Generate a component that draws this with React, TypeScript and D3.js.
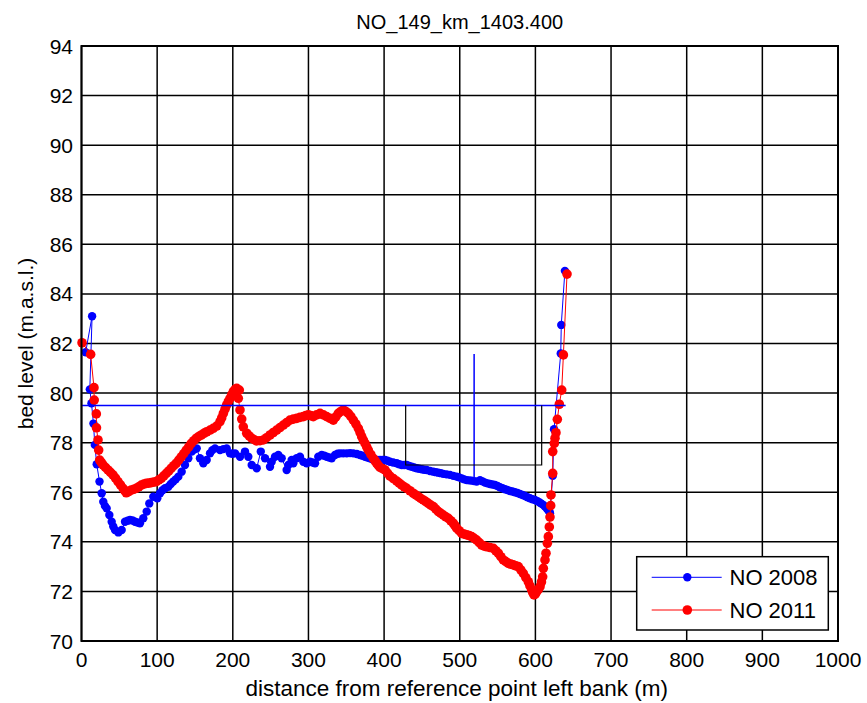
import React from "react";
import * as d3 from "d3";

const TITLE = "NO_149_km_1403.400";
const X_LABEL = "distance from reference point left bank (m)";
const Y_LABEL = "bed level (m.a.s.l.)";
const X_TICKS = [0, 100, 200, 300, 400, 500, 600, 700, 800, 900, 1000];
const Y_TICKS = [70, 72, 74, 76, 78, 80, 82, 84, 86, 88, 90, 92, 94];
const SERIES_NAMES = ["NO 2008", "NO 2011"];

// NO 2008 (distance m, level m.a.s.l.)
const NO2008: [number, number][] = [
  [5.5, 81.65], [14, 83.1], [11, 80.15], [13.2, 79.59], [15.8, 78.77], [17.6, 77.91], [20.1, 77.13], [23.8, 76.43],
  [26.7, 75.96], [28.8, 75.62], [31, 75.45], [33.3, 75.35], [36.8, 75.08], [39.9, 74.81], [42, 74.62], [44.3, 74.48], [48.7, 74.38], [53.1, 74.48],
  [57.5, 74.81], [61, 74.85], [64.1, 74.88], [67.5, 74.86], [70.7, 74.81], [74, 74.78], [77.3, 74.75], [81.7, 74.95], [86.2, 75.22], [89.6, 75.55], [94.9, 75.82],
  [100.2, 75.76], [103.8, 75.96], [107, 76.08], [110.4, 76.16], [114.8, 76.22], [118, 76.33], [121.3, 76.43], [124.5, 76.52], [128, 76.63], [132.4, 76.83], [136.8, 77.1],
  [141.2, 77.37], [145.7, 77.64], [149, 77.72], [152.3, 77.77], [156.6, 77.37], [161, 77.17], [165.5, 77.3], [169.9, 77.57], [173, 77.7], [176.5, 77.77],
  [183.1, 77.7], [187.5, 77.74], [191.9, 77.77], [196.3, 77.57], [199.5, 77.55], [202.9, 77.57], [209.5, 77.43], [216.1, 77.64], [220.5, 77.43], [225, 77.1],
  [231.6, 76.97], [237, 77.64], [242.6, 77.37], [249.2, 77.03], [251.4, 77.23], [255.8, 77.43], [260.2, 77.5], [264.6, 77.37],
  [271.2, 76.9], [273.4, 77.1], [277.8, 77.3], [280, 77.17], [284.4, 77.37], [288.8, 77.43], [293.2, 77.23], [297.7, 77.17],
  [302, 77.23], [305.5, 77.2], [308.7, 77.17], [313, 77.43], [317.5, 77.5], [321, 77.47], [324.1, 77.43], [327.5, 77.4], [330.7, 77.37], [335.1, 77.5], [338.5, 77.55], [341.7, 77.57],
  [346, 77.57], [350.6, 77.57], [355, 77.58], [359.3, 77.57], [364, 77.54], [368.2, 77.5], [371.5, 77.47], [374.8, 77.43], [378, 77.4], [381.4, 77.37], [384.7, 77.33], [388, 77.3], [391.3, 77.3], [394.6, 77.3], [398, 77.3], [401.2, 77.3],
  [404.5, 77.27], [407.8, 77.23], [412, 77.2], [416.7, 77.17], [420, 77.13], [423.3, 77.1], [426.6, 77.1], [429.9, 77.1], [433.2, 77.06], [436.5, 77.03], [439.8, 77.0], [443.1, 76.97], [446.4, 76.95], [449.7, 76.93], [453, 76.91], [456.3, 76.9],
  [460.7, 76.86], [465.1, 76.83], [468.4, 76.81], [471.7, 76.79], [475, 76.77], [478.3, 76.74], [482.7, 76.72], [487.1, 76.7], [491.5, 76.66], [495.9, 76.63], [499.2, 76.6], [502.6, 76.56], [505.9, 76.52], [509.2, 76.49], [512.5, 76.48], [515.8, 76.47],
  [519, 76.45], [522.4, 76.43], [526.8, 76.49], [530, 76.44], [533.4, 76.39], [536.7, 76.36], [540, 76.33], [543.3, 76.31], [546.6, 76.29], [549.9, 76.25], [553.2, 76.2], [556.5, 76.16], [559.8, 76.12], [563.1, 76.09], [566.4, 76.05],
  [569.7, 76.03], [573, 76.0], [576.3, 75.97], [579.6, 75.93], [583, 75.89], [586.3, 75.85], [589.6, 75.8], [592.9, 75.76], [596.2, 75.72], [599.5, 75.69], [602.8, 75.64], [606.1, 75.58], [608.3, 75.53], [610.4, 75.49], [612.7, 75.42], [614.9, 75.35],
  [616.7, 75.28], [618.4, 75.22], [619.3, 75.15], [622.9, 76.66], [624.6, 78.54], [633.5, 81.6], [634.2, 82.75], [639, 84.93],
];

// NO 2011
const NO2011: [number, number][] = [
  [0.7, 82.03], [12.1, 81.56], [16.5, 80.22], [16.8, 79.72], [19.6, 79.16], [19.8, 78.6], [21.8, 78.11], [22.7, 77.7],
  [24, 77.3], [26.2, 77.2], [28.4, 77.1], [31.7, 77.0], [35, 76.9], [38.3, 76.8], [41.6, 76.7], [44.9, 76.57], [48.2, 76.43], [51.5, 76.3], [54.9, 76.16], [57, 76.07], [59.2, 75.98], [62.5, 76.03], [65.8, 76.09],
  [69.1, 76.12], [72.4, 76.16], [75.7, 76.22], [79.1, 76.29], [82.4, 76.33], [85.7, 76.36], [89, 76.37], [92.3, 76.39], [95.6, 76.41], [98.9, 76.43], [102.2, 76.5], [105.5, 76.56], [108.8, 76.66], [112.1, 76.76], [115.4, 76.86], [118.7, 76.97],
  [122, 77.07], [125.3, 77.17], [128.6, 77.3], [131.9, 77.43], [135.2, 77.56], [138.5, 77.7], [141.8, 77.83], [145.1, 77.97], [148.5, 78.08], [151.8, 78.18], [155.1, 78.25], [158.4, 78.31], [162, 78.38], [165.5, 78.44], [170, 78.51], [174.2, 78.58],
  [178.7, 78.67], [183.1, 78.85], [185.3, 79.0], [187.5, 79.18], [189.7, 79.35], [191.9, 79.52], [194.1, 79.66], [196.3, 79.79], [198.5, 79.93], [200.7, 80.06], [203, 80.15], [205.2, 80.19], [208.6, 80.12],
  [207.3, 79.79], [209.5, 79.32], [211.8, 78.95], [213.9, 78.64], [218.4, 78.38], [221.7, 78.27], [225, 78.18], [228.3, 78.12], [231.6, 78.07], [236, 78.08], [240.3, 78.11], [244.7, 78.2], [249.2, 78.31], [253.6, 78.41], [258, 78.51],
  [262.4, 78.61], [266.8, 78.71], [271.2, 78.81], [275.6, 78.91], [280, 78.95], [284.5, 78.98], [288.8, 79.02], [293.2, 79.05], [296.5, 79.09], [299.8, 79.12], [303.1, 79.09], [306.4, 79.05], [310.8, 79.12], [315.3, 79.18], [319.7, 79.12], [324.1, 79.05],
  [328.5, 78.98], [332.9, 78.91], [336.2, 79.04], [339.5, 79.18], [342.8, 79.26], [346.1, 79.32], [349.4, 79.26], [352.7, 79.18], [356, 79.06], [359.3, 78.91], [362.6, 78.76], [365.9, 78.58], [368.2, 78.41],
  [370.4, 78.24], [372.6, 78.1], [374.8, 77.97], [377, 77.83], [379.1, 77.7], [382.4, 77.53], [385.7, 77.37], [388, 77.27], [390.2, 77.17], [392.4, 77.08], [394.6, 77.0], [397.9, 76.95], [401.2, 76.9], [404.5, 76.77], [407.8, 76.65],
  [412.2, 76.55], [416.7, 76.45], [420, 76.37], [423.3, 76.29], [426.6, 76.22], [429.9, 76.16], [434.2, 76.06], [438.6, 75.96], [441.9, 75.89], [445.2, 75.82], [448.5, 75.75], [451.8, 75.69], [455.1, 75.62], [458.4, 75.55], [461.7, 75.48], [465.1, 75.42],
  [468.4, 75.32], [471.7, 75.22], [475, 75.15], [478.3, 75.08], [481.6, 75.01], [484.9, 74.95], [488.2, 74.85], [491.5, 74.75], [493.7, 74.65], [495.9, 74.55], [499.2, 74.45], [502.6, 74.34], [505.9, 74.31], [509.2, 74.28], [512.5, 74.25], [515.8, 74.21],
  [519.1, 74.14], [522.4, 74.07], [525.7, 73.97], [529, 73.87], [532.3, 73.83], [535.6, 73.8], [540, 73.77], [544.4, 73.74], [547.7, 73.64], [551, 73.54], [554.3, 73.4], [557.6, 73.27], [560.9, 73.2], [564.2, 73.13], [567.5, 73.1], [570.8, 73.07],
  [574.1, 73.03], [577.4, 73.0], [580.7, 72.87], [584, 72.73], [587.3, 72.56], [590.6, 72.39], [592.8, 72.22], [595.1, 72.06], [596.6, 71.95], [598.2, 71.86], [600, 71.9], [601.7, 71.99], [604, 72.08], [606.1, 72.19], [608, 72.38], [609.6, 72.59],
  [610.5, 72.93], [612.7, 73.27], [614, 73.54], [615.8, 73.94], [617.1, 74.21], [618.4, 74.6], [619.3, 75.0], [620.2, 75.46],
  [620.6, 75.89], [622.9, 76.76], [622.9, 77.64], [625, 77.97], [625.9, 78.18], [627.2, 78.4], [629, 78.94], [631.6, 79.55],
  [634.8, 80.12], [637, 81.54], [641.8, 84.8],
];

// reference lines
const WATER_LINE: [number, number][] = [[0, 79.5], [640, 79.5]];
const BLACK_LINE: [number, number][] = [[428.5, 79.5], [428.5, 77.1], [608.3, 77.1], [608.3, 79.5]];
const BLUE_VLINE: [number, number][] = [[519, 81.58], [519, 76.6]];

const W = 867;
const H = 703;
const M = { left: 81.5, right: 838, top: 46, bottom: 641 };
const FONT = "'Liberation Sans', Arial, Helvetica, sans-serif";
const FS = 21;

export default function App() {
  const x = d3.scaleLinear().domain([0, 1000]).range([M.left, M.right]);
  const y = d3.scaleLinear().domain([70, 94]).range([M.bottom, M.top]);
  const line = d3
    .line<[number, number]>()
    .x((d) => x(d[0]))
    .y((d) => y(d[1]));

  const legX = 636.7;
  const legY = 556.7;
  const legW = 191.6;
  const legH = 73.3;
  const legRows = [577.3, 610];
  const colors = ["#0000ff", "#ff0000"];
  const radii = [4.2, 4.8];

  return (
    <svg width={W} height={H} style={{ display: "block", position: "absolute", left: 0, top: 0 }}>
      <rect x={0} y={0} width={W} height={H} fill="#fff" />
      {/* grid */}
      <g stroke="#000" strokeWidth={1.5}>
        {X_TICKS.map((t) => (
          <line key={"gx" + t} x1={x(t)} x2={x(t)} y1={M.top} y2={M.bottom} />
        ))}
        {Y_TICKS.map((t) => (
          <line key={"gy" + t} x1={M.left} x2={M.right} y1={y(t)} y2={y(t)} />
        ))}
      </g>
      {/* 2008 */}
      <path d={line(NO2008) || ""} fill="none" stroke={colors[0]} strokeWidth={1} />
      {NO2008.map((d, i) => (
        <circle key={"b" + i} cx={x(d[0])} cy={y(d[1])} r={radii[0]} fill={colors[0]} />
      ))}
      {/* 2011 */}
      <path d={line(NO2011) || ""} fill="none" stroke={colors[1]} strokeWidth={1} />
      {NO2011.map((d, i) => (
        <circle key={"r" + i} cx={x(d[0])} cy={y(d[1])} r={radii[1]} fill={colors[1]} />
      ))}
      {/* reference lines */}
      <path d={line(WATER_LINE) || ""} fill="none" stroke="#0000ff" strokeWidth={1.5} />
      <path d={line(BLUE_VLINE) || ""} fill="none" stroke="#0000ff" strokeWidth={1.5} />
      <path d={line(BLACK_LINE) || ""} fill="none" stroke="#000" strokeWidth={1.2} />
      {/* frame */}
      <rect x={M.left} y={M.top} width={M.right - M.left} height={M.bottom - M.top} fill="none" stroke="#000" strokeWidth={2} />
      {/* ticks labels */}
      <g fontFamily={FONT} fontSize={FS} fill="#000">
        {X_TICKS.map((t) => (
          <text key={"tx" + t} x={x(t)} y={667} textAnchor="middle">
            {t}
          </text>
        ))}
        {Y_TICKS.map((t) => (
          <text key={"ty" + t} x={73} y={y(t)} dy="0.36em" textAnchor="end">
            {t}
          </text>
        ))}
        <text x={(M.left + M.right) / 2 - 3} y={696} textAnchor="middle" fontSize={22.5}>
          {X_LABEL}
        </text>
        <text transform={`translate(33, ${(M.top + M.bottom) / 2}) rotate(-90)`} textAnchor="middle">
          {Y_LABEL}
        </text>
        <text x={(M.left + M.right) / 2} y={29} textAnchor="middle" fontSize={20}>
          {TITLE}
        </text>
      </g>
      {/* legend */}
      <rect x={legX} y={legY} width={legW} height={legH} fill="#fff" stroke="#000" strokeWidth={1.5} />
      {SERIES_NAMES.map((n, i) => (
        <g key={n}>
          <line x1={651.7} x2={721.7} y1={legRows[i]} y2={legRows[i]} stroke={colors[i]} strokeWidth={1} />
          <circle cx={687.3} cy={legRows[i]} r={radii[i]} fill={colors[i]} />
          <text x={729.5} y={legRows[i]} dy="0.36em" fontFamily={FONT} fontSize={22} fill="#000">
            {n}
          </text>
        </g>
      ))}
    </svg>
  );
}
